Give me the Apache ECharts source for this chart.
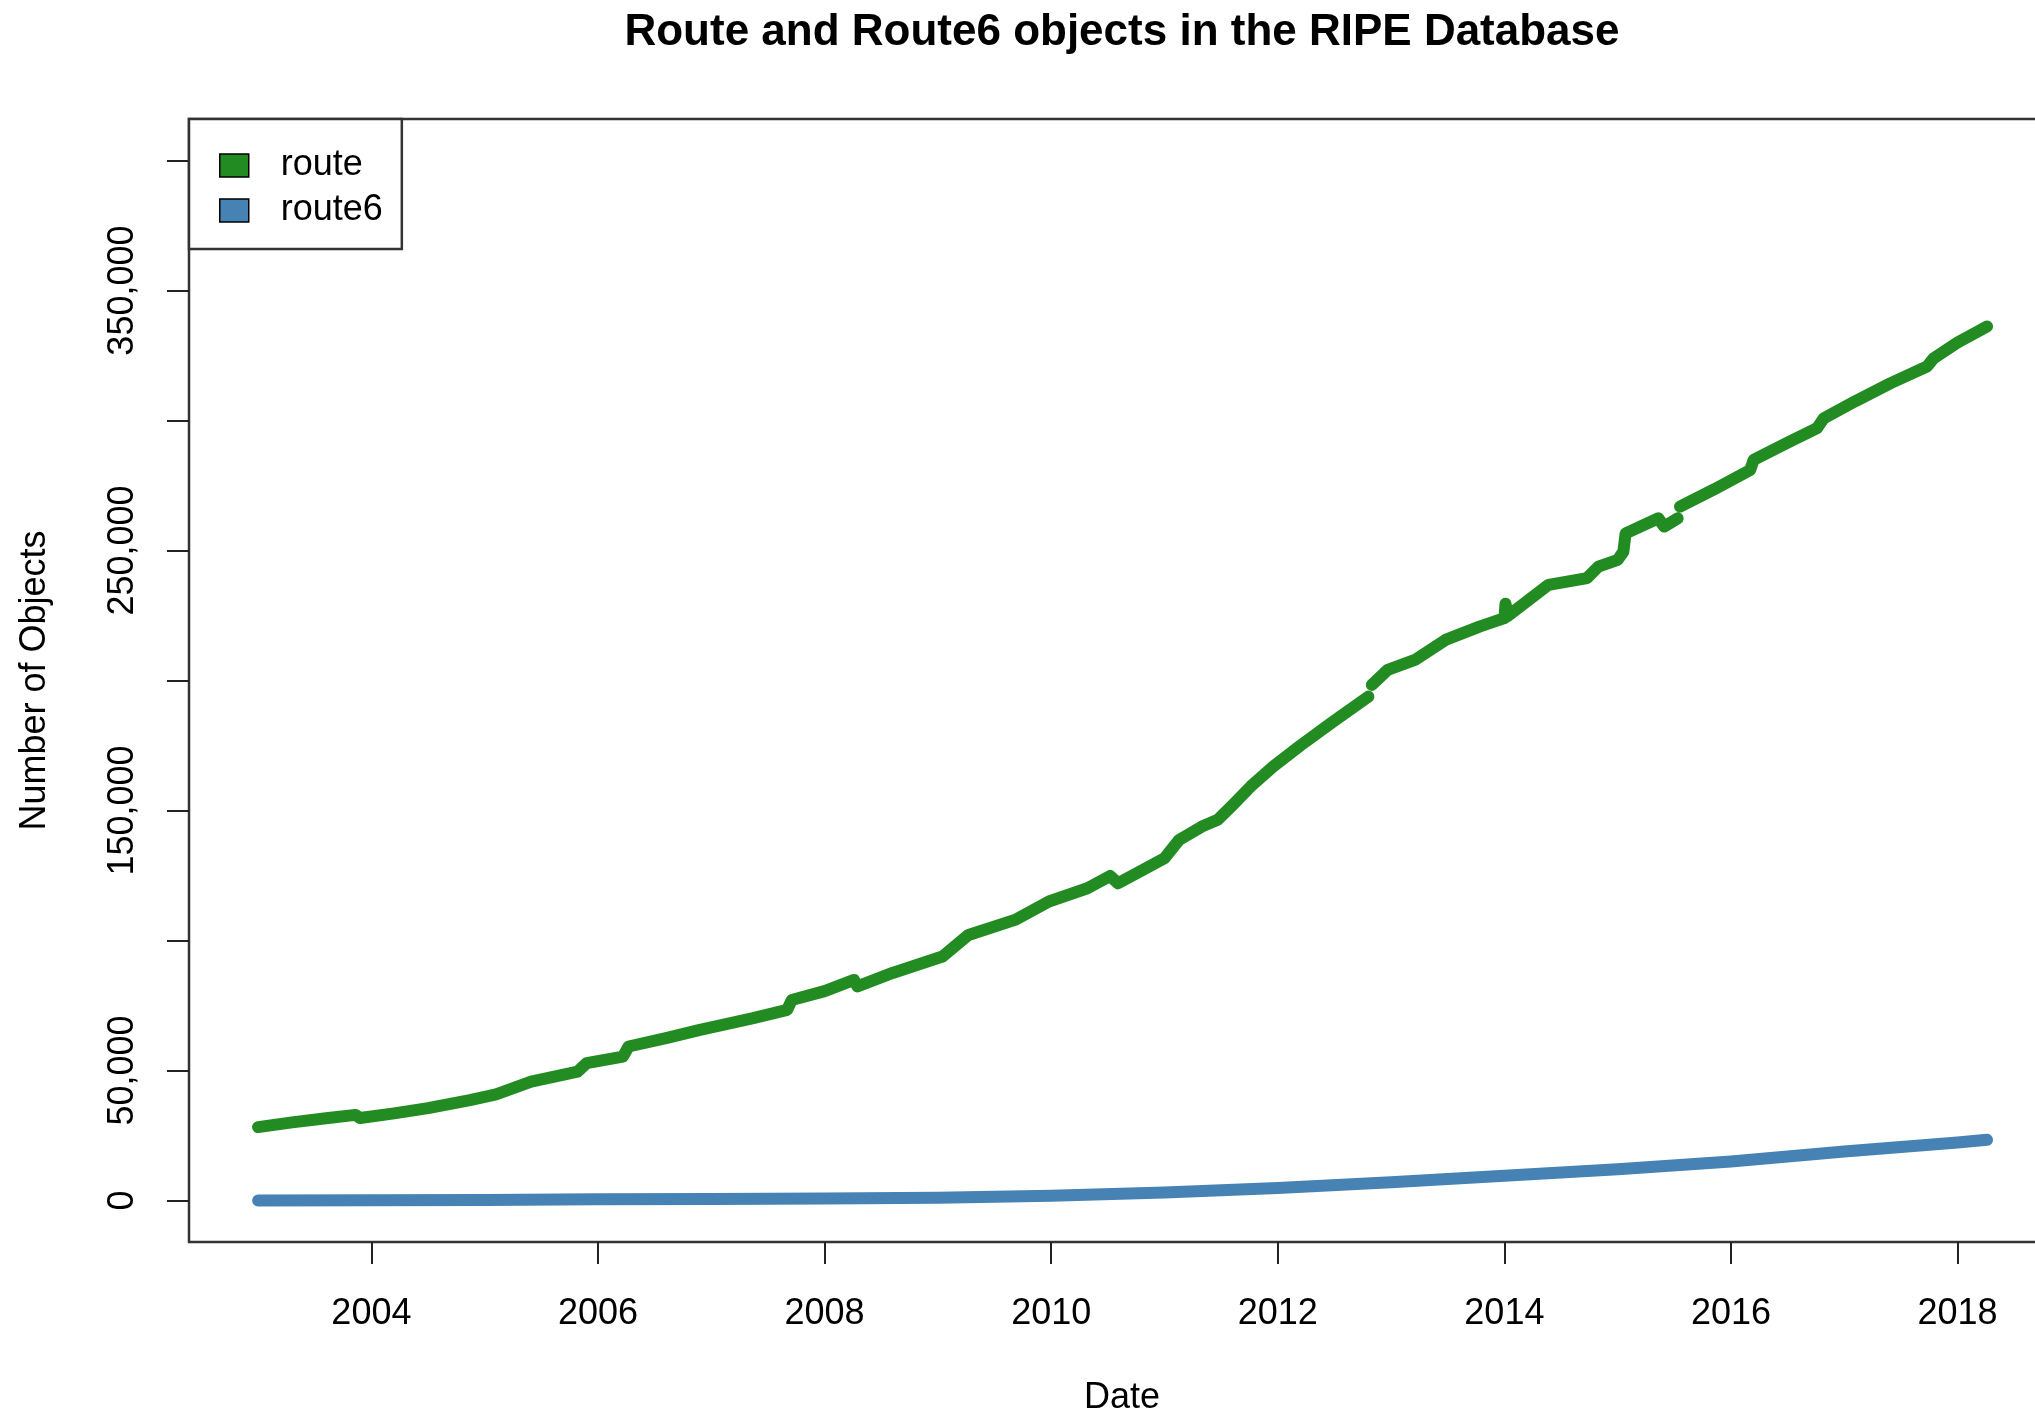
<!DOCTYPE html>
<html>
<head>
<meta charset="utf-8">
<title>Route and Route6 objects in the RIPE Database</title>
<script src="https://cdn.jsdelivr.net/npm/echarts@6/dist/echarts.min.js"></script>
<style>
    html, body { margin: 0; padding: 0; background: #fff; }
    #chart { width: 2035px; height: 1416px; }
</style>
</head>
<body>
<div id="chart"></div>
<script>
// route objects (null = gap in the data)
var routeDates = [2003.0, 2003.3, 2003.6, 2003.86, 2003.9, 2004.2, 2004.5, 2004.87, 2005.1, 2005.41,
    2005.82, 2005.9, 2006.22, 2006.27, 2006.6, 2006.9, 2007.37, 2007.67, 2007.71, 2008.0,
    2008.26, 2008.29, 2008.6, 2009.04, 2009.27, 2009.68, 2009.98, 2010.32, 2010.52, 2010.59,
    2011.0, 2011.13, 2011.33, 2011.47, 2011.6, 2011.76, 2011.96, 2012.2, 2012.47, 2012.8,
    2012.815, 2012.83, 2012.97, 2013.21, 2013.48, 2013.78, 2014.0, 2014.01, 2014.03, 2014.39,
    2014.73, 2014.83, 2015.0, 2015.05, 2015.07, 2015.36, 2015.41, 2015.53, 2015.54, 2015.55,
    2015.85, 2016.17, 2016.2, 2016.5, 2016.76, 2016.82, 2017.1, 2017.41, 2017.73, 2017.79,
    2018.0, 2018.26];
var routeValues = [28200, 30000, 31600, 32900, 31700, 33500, 35500, 38600, 40800, 45700,
    49500, 52800, 55300, 59200, 62400, 65600, 70100, 73300, 77100, 80500,
    84800, 82300, 87500, 93800, 102100, 107900, 115000, 120100, 124800, 122000,
    131600, 138700, 143800, 146400, 152000, 159200, 166900, 175000, 183600, 193800,
    null, 198300, 204100, 207900, 215600, 220700, 224000, 229500, 224800, 236800,
    239400, 243800, 246400, 249500, 256600, 262400, 259200, 262400, null, 266900,
    273500, 281000, 284900, 291500, 297100, 300900, 307500, 314400, 320800, 324000,
    330000, 336200];

// route6 objects
var route6Dates = [2003.0, 2004, 2005, 2006, 2007, 2008, 2009, 2010, 2011, 2012,
    2013, 2014, 2015, 2016, 2017, 2018, 2018.26];
var route6Values = [0, 100, 200, 400, 500, 700, 1000, 1800, 3000, 4800,
    7000, 9500, 12000, 15000, 18800, 22300, 23300];

var yearTicks = [2004, 2006, 2008, 2010, 2012, 2014, 2016, 2018];
var countTicks = [0, 50000, 100000, 150000, 200000, 250000, 300000, 350000, 400000];
var countLabels = [0, 50000, 150000, 250000, 350000];

var seriesNames = ['route', 'route6'];

function pairs(xs, ys) {
    return xs.map(function (x, i) { return [x, ys[i] === null ? '-' : ys[i]]; });
}

var font = '"Liberation Sans", Arial, Helvetica, sans-serif';

var option = {
    animation: false,
    backgroundColor: '#fff',
    textStyle: { fontFamily: font, color: '#000' },
    title: {
        text: 'Route and Route6 objects in the RIPE Database',
        left: 1117,
        top: 6,
        textAlign: 'center',
        textStyle: { fontFamily: font, fontSize: 44, fontWeight: 'bold', color: '#000' }
    },
    legend: {
        data: seriesNames,
        orient: 'vertical',
        left: 189,
        top: 119,
        icon: 'rect',
        itemWidth: 29,
        itemHeight: 23,
        itemGap: 0,
        padding: [24, 19, 16, 30],
        backgroundColor: '#fff',
        borderColor: '#333',
        borderWidth: 2.5,
        borderRadius: 0,
        itemStyle: { borderColor: '#000', borderWidth: 1.5 },
        textStyle: { fontFamily: font, fontSize: 36, lineHeight: 45, color: '#000', padding: [0, 0, 0, 27] }
    },
    grid: {
        left: 189,
        top: 119,
        right: -20,
        bottom: 174,
        show: true,
        borderColor: '#333',
        borderWidth: 2.5,
        outerBoundsMode: 'none'
    },
    xAxis: {
        type: 'value',
        min: 2002.39,
        max: 2018.86,
        name: 'Date',
        nameLocation: 'middle',
        nameGap: 138,
        nameTextStyle: { fontFamily: font, fontSize: 36, lineHeight: 36, color: '#000' },
        axisLine: { show: false, onZero: false },
        splitLine: { show: false },
        axisTick: { show: true, customValues: yearTicks, length: 22, lineStyle: { color: '#222', width: 2 } },
        axisLabel: {
            customValues: yearTicks,
            margin: 54,
            fontFamily: font,
            fontSize: 36,
            lineHeight: 36,
            color: '#000',
            formatter: function (v) { return String(v); }
        }
    },
    yAxis: {
        type: 'value',
        min: -16000,
        max: 416000,
        name: 'Number of Objects',
        nameLocation: 'middle',
        nameGap: 136,
        nameTextStyle: { fontFamily: font, fontSize: 36, lineHeight: 36, color: '#000' },
        axisLine: { show: false, onZero: false },
        splitLine: { show: false },
        axisTick: { show: true, customValues: countTicks, length: 22, lineStyle: { color: '#222', width: 2 } },
        axisLabel: {
            customValues: countLabels,
            rotate: 90,
            margin: 48,
            fontFamily: font,
            fontSize: 36,
            lineHeight: 36,
            color: '#000',
            formatter: function (v) { return v.toLocaleString('en-US'); }
        }
    },
    series: [
        {
            name: seriesNames[0],
            type: 'line',
            data: pairs(routeDates, routeValues),
            showSymbol: false,
            connectNulls: false,
            color: '#228B22',
            lineStyle: { color: '#228B22', width: 12, cap: 'round', join: 'round' }
        },
        {
            name: seriesNames[1],
            type: 'line',
            data: pairs(route6Dates, route6Values),
            showSymbol: false,
            color: '#4682B4',
            lineStyle: { color: '#4682B4', width: 12, cap: 'round', join: 'round' }
        }
    ]
};

var myChart = echarts.init(document.getElementById('chart'));
myChart.setOption(option);
</script>
</body>
</html>
